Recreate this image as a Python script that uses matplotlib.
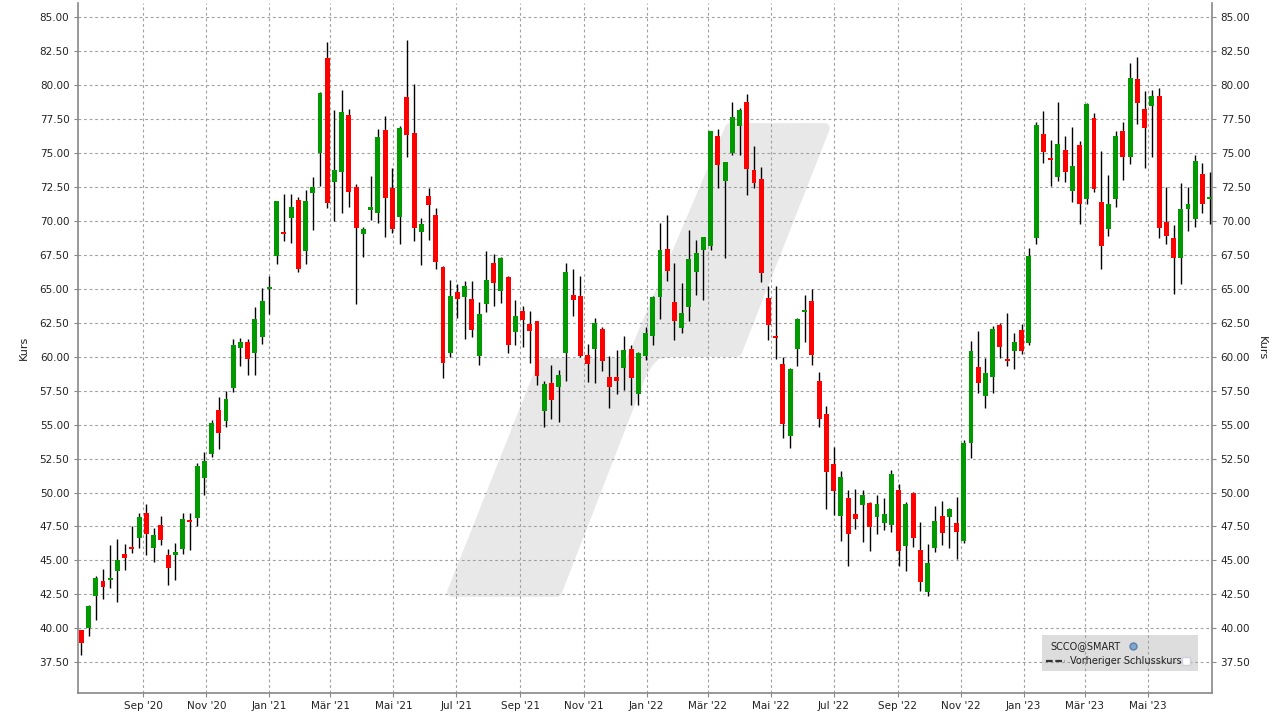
import matplotlib
matplotlib.use("Agg")
import matplotlib.pyplot as plt
import matplotlib.dates as mdates
from matplotlib.patches import Polygon, Rectangle
from matplotlib.lines import Line2D
import numpy as np
import pandas as pd

W, H = 1279, 719

# weekly candles, week ending friday
start_date = "2020-07-03"
n_weeks = 157

opens = [
    39.88, 40.02, 42.38, 43.48, 43.55, 44.22, 45.49, 46.00, 46.64, 48.48,
    45.90, 47.60, 45.39, 45.39, 45.83, 47.96, 48.11, 51.05, 52.81, 56.10,
    55.25, 57.67, 60.61, 61.06, 60.25, 61.43, 64.97, 67.40, 69.17, 70.20,
    71.53, 67.77, 72.04, 74.99, 82.00, 72.86, 73.59, 77.80, 72.49, 69.02,
    70.79, 70.57, 76.69, 72.41, 70.27, 79.12, 76.47, 69.17, 71.82, 70.42,
    66.59, 60.25, 64.74, 64.38, 64.23, 60.02, 63.86, 66.88, 64.82, 65.85,
    61.79, 63.34, 62.38, 62.60, 56.04, 58.03, 57.74, 60.25, 64.52, 64.45,
    60.10, 60.54, 62.02, 58.48, 58.48, 59.14, 60.54, 57.22, 60.02, 61.50,
    64.38, 67.91, 64.00, 62.09, 63.64, 66.22, 67.84, 68.14, 76.25, 72.93,
    74.99, 76.98, 78.75, 73.74, 73.08, 64.30, 61.50, 59.43, 54.20, 60.54,
    63.27, 64.08, 58.18, 55.82, 52.13, 48.30, 49.63, 48.45, 49.11, 49.26,
    48.23, 47.78, 47.64, 50.22, 46.09, 50.00, 45.79, 42.70, 45.94, 48.30,
    48.23, 47.78, 46.46, 53.68, 59.21, 57.08, 58.48, 62.31, 59.80, 60.39,
    61.94, 60.98, 68.73, 76.39, 74.63, 73.22, 75.22, 72.19, 75.58, 71.60,
    77.57, 71.38, 69.39, 71.60, 76.66, 74.69, 80.42, 78.28, 78.50, 79.17,
    69.95, 68.77, 67.25, 70.91, 70.12, 73.49, 71.60]

highs = [
    39.90, 41.72, 43.85, 44.36, 46.13, 46.57, 46.20, 47.52, 48.48, 49.14,
    47.38, 48.26, 45.83, 46.27, 48.48, 48.48, 52.15, 52.97, 55.31, 57.01,
    57.45, 61.27, 61.35, 61.28, 63.64, 65.04, 65.92, 71.50, 71.97, 71.97,
    71.75, 72.27, 73.22, 79.49, 83.18, 78.16, 79.64, 78.24, 72.71, 69.54,
    73.30, 76.76, 77.72, 73.89, 76.98, 83.33, 80.08, 70.20, 72.41, 70.94,
    66.66, 65.63, 65.33, 65.56, 65.56, 64.00, 67.77, 67.55, 67.32, 65.92,
    64.15, 63.71, 63.34, 62.65, 58.25, 59.36, 58.99, 66.88, 66.44, 65.92,
    60.91, 62.83, 62.16, 60.02, 60.47, 61.50, 60.84, 60.32, 62.16, 64.45,
    69.83, 70.42, 66.88, 65.41, 69.32, 68.58, 68.85, 76.62, 76.76, 74.33,
    78.75, 78.30, 79.34, 75.51, 73.96, 65.19, 65.19, 59.95, 59.14, 62.83,
    64.52, 64.97, 58.84, 56.34, 53.39, 51.62, 50.22, 50.29, 50.22, 49.30,
    49.85, 49.63, 51.69, 50.66, 49.33, 50.05, 47.86, 46.24, 49.04, 49.41,
    48.89, 49.70, 53.90, 61.13, 61.87, 59.88, 62.24, 62.46, 63.20, 61.72,
    62.38, 67.99, 77.28, 78.09, 75.95, 78.75, 76.25, 76.91, 75.88, 78.68,
    77.94, 75.14, 73.37, 76.62, 77.32, 81.60, 82.07, 79.54, 79.68, 79.76,
    72.53, 69.73, 72.83, 72.53, 74.89, 74.30, 73.64]

lows = [
    38.04, 39.44, 40.61, 42.16, 42.97, 41.94, 44.29, 45.54, 45.90, 45.39,
    44.88, 46.13, 43.19, 43.55, 45.46, 45.76, 47.52, 49.80, 52.60, 53.18,
    54.83, 57.38, 59.29, 58.62, 58.62, 60.91, 63.12, 66.81, 68.50, 68.36,
    66.22, 66.81, 69.32, 72.56, 70.94, 69.98, 70.57, 71.01, 63.86, 67.32,
    70.05, 69.83, 68.80, 69.10, 68.28, 74.70, 68.50, 66.73, 68.58, 66.44,
    58.40, 59.95, 62.83, 61.28, 61.43, 59.36, 63.27, 63.71, 63.93, 60.25,
    60.84, 60.69, 59.51, 57.89, 54.86, 55.45, 55.23, 58.25, 62.97, 59.95,
    58.11, 58.03, 58.92, 56.19, 57.22, 57.52, 56.48, 56.41, 59.73, 60.84,
    62.75, 65.56, 61.20, 61.72, 62.60, 64.52, 64.15, 67.84, 72.41, 67.25,
    74.85, 74.85, 71.90, 72.41, 65.48, 61.20, 59.80, 53.98, 53.31, 59.29,
    61.06, 59.36, 54.79, 48.82, 48.37, 46.46, 44.61, 47.34, 46.38, 45.72,
    46.97, 47.27, 47.12, 44.61, 44.24, 46.01, 42.77, 42.40, 45.65, 46.16,
    45.94, 45.13, 46.31, 52.58, 57.30, 56.19, 57.30, 59.88, 59.29, 59.07,
    60.17, 60.84, 68.28, 74.26, 72.56, 72.93, 72.86, 71.38, 69.76, 71.23,
    72.12, 66.44, 68.87, 71.01, 73.00, 74.18, 77.13, 73.88, 74.69, 68.72,
    68.28, 64.59, 65.33, 69.29, 69.53, 70.57, 69.75]

closes = [
    38.95, 41.64, 43.70, 43.04, 43.70, 45.02, 45.17, 45.83, 48.19, 46.94,
    46.86, 46.50, 44.43, 45.61, 48.04, 47.82, 51.93, 52.30, 55.09, 54.36,
    56.86, 60.83, 61.06, 59.80, 62.75, 64.08, 65.11, 71.45, 69.02, 71.01,
    66.44, 71.45, 72.49, 79.42, 71.31, 73.74, 78.02, 72.12, 69.46, 69.39,
    71.01, 76.17, 71.68, 69.39, 76.84, 76.32, 69.46, 69.76, 71.16, 66.96,
    59.51, 64.45, 64.23, 65.19, 61.94, 63.12, 65.63, 65.41, 67.25, 60.84,
    62.97, 62.68, 61.87, 58.55, 57.96, 56.78, 58.62, 66.22, 64.15, 60.02,
    59.43, 62.46, 59.66, 57.74, 58.18, 60.47, 58.40, 60.25, 61.72, 64.38,
    67.84, 66.29, 62.60, 63.20, 67.18, 67.62, 68.80, 76.62, 74.11, 74.33,
    77.65, 78.16, 73.81, 72.78, 66.15, 62.31, 61.35, 55.08, 59.07, 62.75,
    63.42, 60.10, 55.45, 51.54, 50.14, 51.18, 46.97, 48.08, 49.85, 47.49,
    49.18, 48.45, 51.40, 45.72, 49.18, 46.68, 43.43, 44.83, 47.93, 47.05,
    48.82, 47.12, 53.68, 60.39, 58.03, 58.77, 62.02, 60.69, 59.66, 61.06,
    60.39, 67.40, 77.06, 75.07, 74.48, 75.66, 73.59, 74.04, 71.23, 78.61,
    72.34, 68.14, 71.23, 76.25, 74.69, 80.50, 78.68, 76.81, 79.17, 69.46,
    68.87, 67.25, 70.91, 71.28, 74.45, 71.23, 71.72]

xtick_dates = ["2020-09-01", "2020-11-01", "2021-01-01", "2021-03-01", "2021-05-01",
               "2021-07-01", "2021-09-01", "2021-11-01", "2022-01-01", "2022-03-01",
               "2022-05-01", "2022-07-01", "2022-09-01", "2022-11-01", "2023-01-01",
               "2023-03-01", "2023-05-01"]
xtick_labels = ["Sep '20", "Nov '20", "Jan '21", "Mär '21", "Mai '21", "Jul '21",
                "Sep '21", "Nov '21", "Jan '22", "Mär '22", "Mai '22", "Jul '22",
                "Sep '22", "Nov '22", "Jan '23", "Mär '23", "Mai '23"]
yticks = np.arange(37.5, 85.01, 2.5)

GREEN = "#009900"
RED = "#ff0000"
TXT = "#222222"


def px(x, y):
    # pixel position -> figure fraction
    return (x / W, 1 - y / H)


def main():
    fig = plt.figure(figsize=(W / 100, H / 100), dpi=100)
    l, b = px(77.7, 692.7)
    r, t = px(1212.3, 3)
    ax = fig.add_axes([l, b, r - l, t - b])

    dates = pd.date_range(start_date, periods=n_weeks, freq="7D")
    x = mdates.date2num(dates)
    o = np.array(opens)
    c = np.array(closes)
    hi = np.array(highs)
    lo = np.array(lows)

    up = c >= o
    colors = np.where(up, GREEN, RED)
    bottom = np.minimum(o, c)
    height = np.maximum(np.abs(c - o), 0.15)

    ax.vlines(x, lo, hi, color="black", lw=1.0, zorder=3)
    ax.bar(x, height, bottom=bottom, width=4.8, color=colors, linewidth=0, zorder=4)

    ax.set_xlim(mdates.date2num(pd.Timestamp("2020-06-29 12:00")),
                mdates.date2num(pd.Timestamp("2023-07-02 12:00")))
    ax.set_ylim(35.26, 86.05)

    ax.set_xticks(mdates.date2num(pd.to_datetime(xtick_dates)))
    ax.set_xticklabels(xtick_labels)
    ax.set_yticks(yticks)
    ax.set_yticklabels(["%.2f" % v for v in yticks])

    ax.tick_params(axis="both", labelsize=7.5, colors="#888888", labelcolor=TXT, length=3)
    ax.tick_params(axis="y", right=True, labelright=True, pad=3)
    ax.tick_params(axis="x", pad=3)

    for s in ["left", "right", "bottom"]:
        ax.spines[s].set_color("#888888")
        ax.spines[s].set_linewidth(1.2)
    ax.spines["top"].set_visible(False)

    ax.set_axisbelow(True)
    ax.grid(True, color="#a0a0a0", linestyle=(0, (2.5, 2.5)), lw=0.8)

    ax.set_ylabel("Kurs", fontsize=8, color=TXT, labelpad=8)
    fig.text(*px(1262, 348), "Kurs", rotation=270, fontsize=8, color=TXT,
             ha="center", va="center")

    # watermark logo
    wm = [(730, 128), (825, 128), (737, 352), (668, 352), (656, 355), (649, 362),
          (642, 373), (557, 592), (452, 592), (543, 363), (630, 363)]
    ax.add_patch(Polygon([px(*p) for p in wm], closed=True, transform=fig.transFigure,
                         facecolor="#e8e8e8", edgecolor="#e8e8e8", lw=7,
                         joinstyle="round", zorder=0.2))

    # legend box
    lx, ly = px(1042, 671)
    rx, ry = px(1198, 635)
    ax.add_patch(Rectangle((lx, ly), rx - lx, ry - ly, transform=fig.transFigure,
                           facecolor="#dddddd", edgecolor="none", zorder=0.3))
    fig.text(*px(1050, 646), "SCCO@SMART", fontsize=7, color=TXT, va="center")
    fig.add_artist(Line2D([1046 / W, 1065 / W], [1 - 661 / H, 1 - 661 / H],
                          color="#333333", lw=1.6, dashes=(3, 1.2)))
    fig.text(*px(1070, 661), "Vorheriger Schlusskurs", fontsize=7, color=TXT, va="center")
    fig.add_artist(Line2D([1133 / W], [1 - 646 / H], marker="o", markersize=5,
                          markerfacecolor="#7fa7d0", markeredgecolor="#5a7fa8", lw=0))
    fig.add_artist(Line2D([1186 / W], [1 - 661 / H], marker="s", markersize=6,
                          markerfacecolor="white", markeredgecolor="#cfcfe0", lw=0))

    fig.savefig("out.png", dpi=100)


if __name__ == "__main__":
    main()
